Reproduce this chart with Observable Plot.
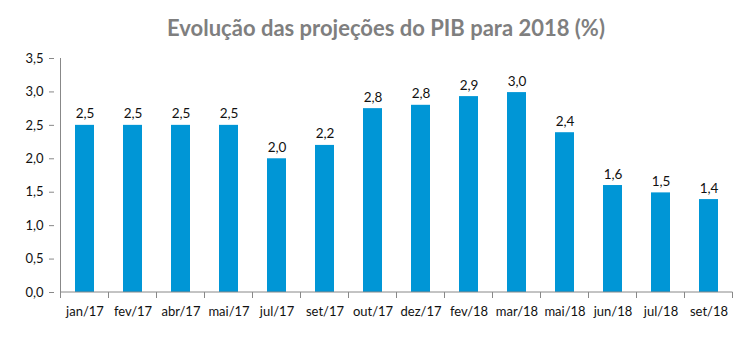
<!DOCTYPE html>
<html><head><meta charset="utf-8">
<script src="https://cdn.jsdelivr.net/npm/d3@7"></script>
<script src="https://cdn.jsdelivr.net/npm/@observablehq/plot@0.6"></script>
<style>
body{margin:0;background:#fff;}
#title{height:45px;width:751px;text-align:center;font-family:Lato,"Open Sans",sans-serif;font-weight:700;font-size:22px;color:#7f7f7f;line-height:56px;padding-left:21px;box-sizing:border-box;}
</style></head><body>
<div id="title">Evolução das projeções do PIB para 2018 (%)</div>
<div id="chart"></div>
<script>
const months = ["jan/17","fev/17","abr/17","mai/17","jul/17","set/17","out/17","dez/17","fev/18","mar/18","mai/18","jun/18","jul/18","set/18"];
const values = [2.5,2.5,2.5,2.5,2.0,2.2,2.75,2.8,2.93,2.99,2.39,1.6,1.49,1.39];
const labels = ["2,5","2,5","2,5","2,5","2,0","2,2","2,8","2,8","2,9","3,0","2,4","1,6","1,5","1,4"];
const yTicks = [0,0.5,1,1.5,2,2.5,3,3.5];

const data = months.map((m,i)=>({month:m,value:values[i],label:labels[i]}));
const fmt = d => d.toFixed(1).replace(".", ",");

const plot = Plot.plot({
  width:751, height:312,
  marginLeft:54, marginRight:13, marginTop:13, marginBottom:65,
  style:{fontFamily:"Lato, 'Open Sans', sans-serif", fontSize:"13px", color:"#111", background:"#fff"},
  x:{domain:months, paddingInner:0.61, paddingOuter:0.305, label:null},
  y:{domain:[0,3.5], label:null},
  marks:[
    Plot.barY(data,{x:"month", y:"value", fill:"#0096d6"}),
    Plot.text(data,{x:"month", y:"value", text:"label", lineAnchor:"bottom", dy:-7, fill:"#111", fontSize:13.5}),
    Plot.axisY({ticks:yTicks, tickFormat:fmt, tickSize:5, tickPadding:6, stroke:"#888", fill:"#111", fontSize:13, label:null}),
    Plot.axisX({tickSize:0, tickPadding:14, fill:"#111", fontSize:13, label:null})
  ]
});
document.getElementById("chart").appendChild(plot);

// axis lines and x boundary ticks using the plot's scales
const xs = plot.scale("x"), ys = plot.scale("y");
const svg = d3.select(plot);
const y0 = ys.apply(0), y1 = ys.apply(3.5);
const step = xs.step;
const bw = xs.bandwidth;
const left = xs.apply(months[0]) + bw/2 - step/2;
const g = svg.append("g").attr("stroke","#888").attr("stroke-width",1);
g.append("line").attr("x1",left).attr("x2",left).attr("y1",y1).attr("y2",y0);
for(let i=0;i<=months.length;i++){
  const x = left + i*step;
  g.append("line").attr("x1",x).attr("x2",x).attr("y1",y0).attr("y2",y0+6);
}
g.append("line").attr("x1",left).attr("x2",left+months.length*step).attr("y1",y0).attr("y2",y0);
</script>
</body></html>
